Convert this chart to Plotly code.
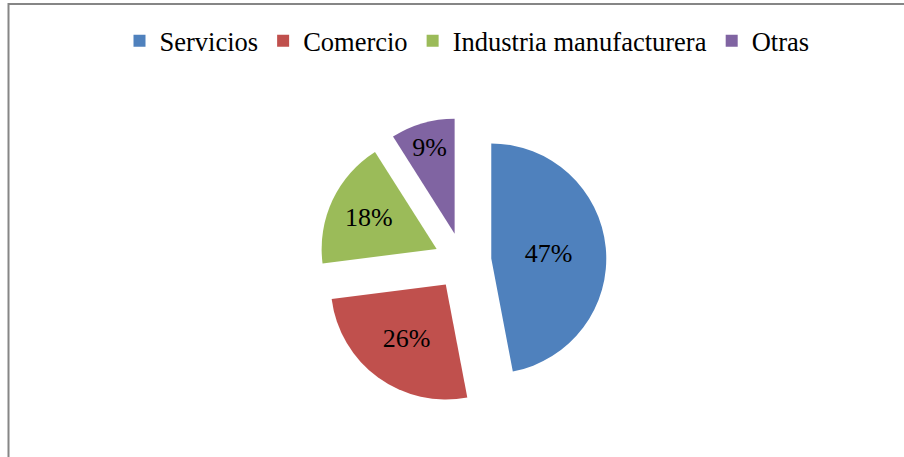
import plotly.graph_objects as go

# Share by sector
labels = ["Servicios", "Comercio", "Industria manufacturera", "Otras"]
values = [47, 26, 18, 9]
colors = ["#4F81BD", "#C0504D", "#9BBB59", "#8064A2"]
pulls = [0.25, 0.25, 0.25, 0.25]

W, H = 904, 457
FONT = "'Times New Roman', 'Liberation Serif', 'DejaVu Serif', serif"

fig = go.Figure(
    go.Pie(
        labels=labels,
        values=values,
        marker=dict(colors=colors, line=dict(width=0)),
        pull=pulls,
        sort=False,
        direction="clockwise",
        rotation=0,
        textinfo="percent",
        textposition="inside",
        insidetextorientation="horizontal",
        textfont=dict(family=FONT, size=26, color="black"),
        domain=dict(x=[318.9 / W, 606.4 / W], y=[1 - 405.0 / H, 1 - 117.5 / H]),
        hoverinfo="label+percent",
    )
)

fig.update_layout(
    width=W,
    height=H,
    margin=dict(l=0, r=0, t=0, b=0),
    paper_bgcolor="white",
    plot_bgcolor="white",
    font=dict(family=FONT),
    showlegend=True,
    legend=dict(
        orientation="h",
        x=467 / W,
        xanchor="center",
        y=1 - 41 / H,
        yanchor="middle",
        font=dict(family=FONT, size=26.5, color="black"),
        itemwidth=30,
        traceorder="normal",
    ),
    uniformtext=dict(minsize=26, mode="show"),
    shapes=[
        dict(
            type="rect",
            xref="paper",
            yref="paper",
            x0=8.5 / W,
            x1=1.05,
            y0=-0.05,
            y1=1 - 4 / H,
            line=dict(color="#868686", width=2),
            fillcolor="rgba(0,0,0,0)",
            layer="below",
        )
    ],
)

fig.write_html("out.html")
